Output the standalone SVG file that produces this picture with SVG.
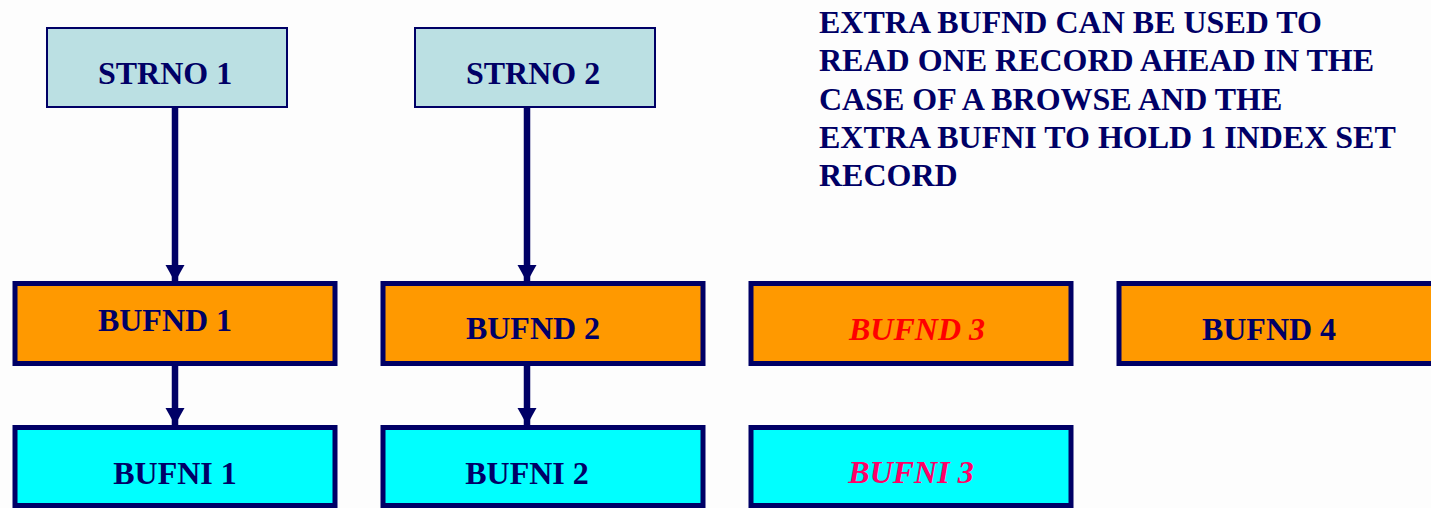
<svg xmlns="http://www.w3.org/2000/svg" width="1431" height="508" viewBox="0 0 1431 508">
<style>
text{font-family:"Liberation Serif","Times New Roman",serif;font-weight:bold;fill:#000066}
.lbl{font-size:32px;text-anchor:middle}
.note{font-size:32px}
.strno{fill:#BBE0E3;stroke:#000066;stroke-width:2}
.nd{fill:#FF9900;stroke:#000066;stroke-width:5}
.ni{fill:#00FFFF;stroke:#000066;stroke-width:5}
.conn{stroke:#000066;stroke-width:6.5;fill:none}
</style>
<defs>
<marker id="ah" markerUnits="userSpaceOnUse" markerWidth="20" markerHeight="20" refX="17" refY="9.5" orient="auto">
<path d="M0,0 L17,9.5 L0,19 Z" fill="#000066"/>
</marker>
</defs>
<rect width="1431" height="508" fill="#FDFDFD"/>
<g id="connectors">
<line class="conn" x1="175" y1="108" x2="175" y2="282" marker-end="url(#ah)"/>
<line class="conn" x1="527" y1="108" x2="527" y2="282" marker-end="url(#ah)"/>
<line class="conn" x1="175" y1="366" x2="175" y2="425" marker-end="url(#ah)"/>
<line class="conn" x1="527" y1="366" x2="527" y2="425" marker-end="url(#ah)"/>
</g>
<g id="strno1"><rect class="strno" x="47" y="28" width="240" height="79"/><text class="lbl" x="165" y="84">STRNO 1</text></g>
<g id="strno2"><rect class="strno" x="415" y="28" width="240" height="79"/><text class="lbl" x="533" y="84">STRNO 2</text></g>
<g id="bufnd1"><rect class="nd" x="15" y="283.5" width="320" height="80"/><text class="lbl" x="165" y="331">BUFND 1</text></g>
<g id="bufnd2"><rect class="nd" x="383" y="283.5" width="320" height="80"/><text class="lbl" x="533" y="339">BUFND 2</text></g>
<g id="bufnd3"><rect class="nd" x="751" y="283.5" width="320" height="80"/><text class="lbl" x="917" y="340" style="fill:#FF0000;font-style:italic">BUFND 3</text></g>
<g id="bufnd4"><rect class="nd" x="1119" y="283.5" width="320" height="80"/><text class="lbl" x="1269" y="340">BUFND 4</text></g>
<g id="bufni1"><rect class="ni" x="15" y="427.5" width="320" height="78"/><text class="lbl" x="175" y="484">BUFNI 1</text></g>
<g id="bufni2"><rect class="ni" x="383" y="427.5" width="320" height="78"/><text class="lbl" x="527" y="484">BUFNI 2</text></g>
<g id="bufni3"><rect class="ni" x="751" y="427.5" width="320" height="78"/><text class="lbl" x="911" y="483" style="fill:#FF0066;font-style:italic">BUFNI 3</text></g>
<g id="note">
<text class="note" x="819" y="33">EXTRA BUFND CAN BE USED TO</text>
<text class="note" x="819" y="71">READ ONE RECORD AHEAD IN THE</text>
<text class="note" x="819" y="110">CASE OF A BROWSE AND THE</text>
<text class="note" x="819" y="148">EXTRA BUFNI TO HOLD 1 INDEX SET</text>
<text class="note" x="819" y="186">RECORD</text>
</g>
</svg>
